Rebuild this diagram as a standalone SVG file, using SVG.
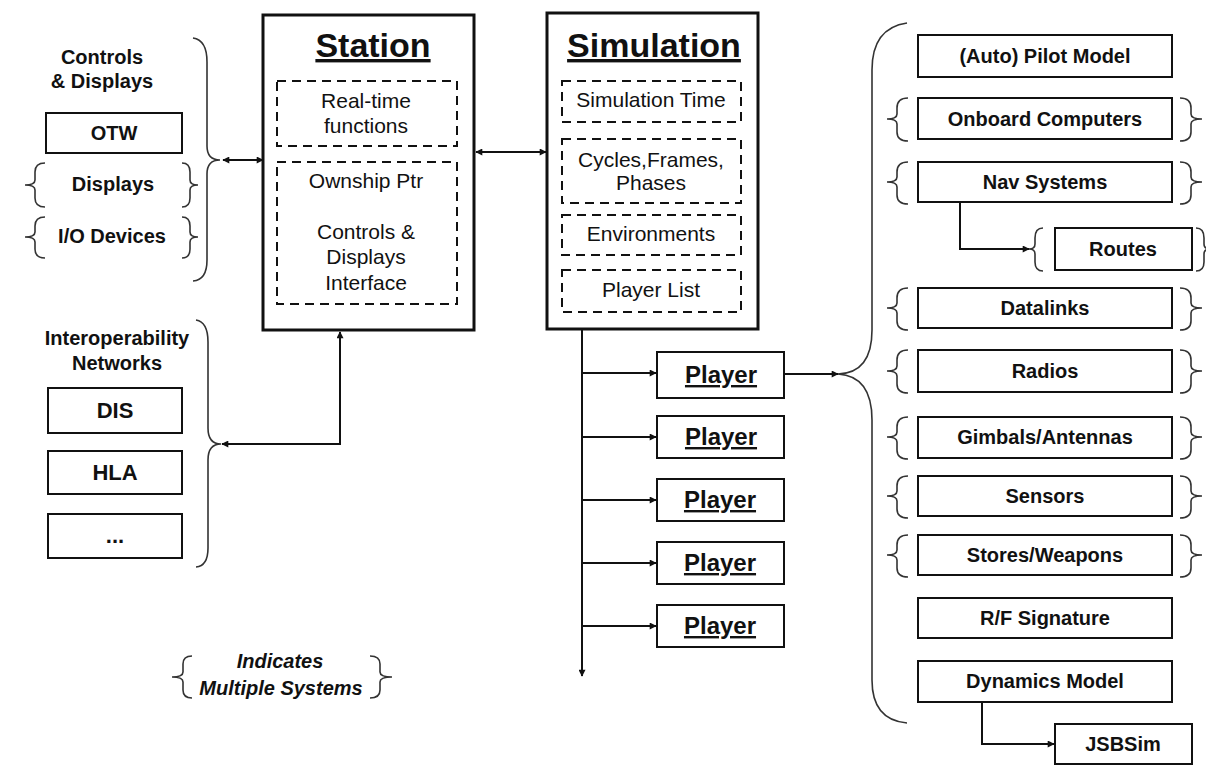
<svg xmlns="http://www.w3.org/2000/svg" width="1206" height="781" viewBox="0 0 1206 781">
<defs>
<marker id="ah" viewBox="0 0 10 10" refX="9" refY="5" markerWidth="9" markerHeight="7" markerUnits="userSpaceOnUse" orient="auto-start-reverse"><path d="M0,0 L10,5 L0,10 z" fill="#111"/></marker>
<style>
.big{fill:#fff;stroke:#111;stroke-width:3}
.box{fill:#fff;stroke:#111;stroke-width:2}
.dash{fill:none;stroke:#111;stroke-width:2;stroke-dasharray:9,6}
.br{fill:none;stroke:#333;stroke-width:1.6}
.con{fill:none;stroke:#111;stroke-width:2}
text{font-family:"Liberation Sans",Arial,sans-serif;fill:#111;text-anchor:middle}
.t{font-size:34px;font-weight:bold;text-decoration:underline}
.r{font-size:21px}
.b{font-size:20px;font-weight:bold}
.b22{font-size:22px;font-weight:bold}
.p{font-size:24px;font-weight:bold;text-decoration:underline}
.i{font-size:20px;font-weight:bold;font-style:italic}
</style>
</defs>
<rect width="1206" height="781" fill="#fff"/>

<g id="controls-displays">
<text class="b" x="102" y="64">Controls</text>
<text class="b" x="102" y="88">&amp; Displays</text>
<path class="br" d="M193,38 Q207,40 207,62 L207,146 Q207,160 220,160 Q207,160 207,174 L207,260 Q207,280 193,281"/>
</g>
<g id="otw"><rect class="box" x="46" y="113" width="136" height="40"/><text class="b" x="114" y="140">OTW</text></g>
<g id="displays">
<path class="br" d="M45,163 Q35,163 35,172 L35,180 Q35,185 25,185 Q35,185 35,190 L35,198 Q35,207 45,207"/>
<path class="br" d="M182,163 Q190,163 190,172 L190,180 Q190,185 198,185 Q190,185 190,190 L190,198 Q190,207 182,207"/>
<text class="b" x="113" y="191">Displays</text>
</g>
<g id="io-devices">
<path class="br" d="M45,217 Q35,217 35,226 L35,232 Q35,237 25,237 Q35,237 35,242 L35,249 Q35,258 45,258"/>
<path class="br" d="M182,217 Q190,217 190,226 L190,232 Q190,237 198,237 Q190,237 190,242 L190,249 Q190,258 182,258"/>
<text class="b" x="112" y="243">I/O Devices</text>
</g>

<g id="interop">
<text class="b" x="117" y="345">Interoperability</text>
<text class="b" x="117" y="370">Networks</text>
<path class="br" d="M196,320 Q208,322 208,342 L208,428 Q208,444 221,444 Q208,444 208,460 L208,548 Q208,566 196,567"/>
</g>
<g id="dis"><rect class="box" x="48" y="388" width="134" height="45"/><text class="b22" x="115" y="418">DIS</text></g>
<g id="hla"><rect class="box" x="48" y="451" width="134" height="43"/><text class="b22" x="115" y="480">HLA</text></g>
<g id="etc"><rect class="box" x="48" y="514" width="134" height="44"/><text class="b22" x="115" y="543">...</text></g>

<g id="station">
<rect class="big" x="263" y="15" width="211" height="315"/>
<text class="t" x="373" y="57">Station</text>
<rect class="dash" x="277" y="81" width="180" height="65"/>
<text class="r" x="366" y="108">Real-time</text>
<text class="r" x="366" y="133">functions</text>
<rect class="dash" x="277" y="162" width="180" height="142"/>
<text class="r" x="366" y="188">Ownship Ptr</text>
<text class="r" x="366" y="239">Controls &amp;</text>
<text class="r" x="366" y="264">Displays</text>
<text class="r" x="366" y="290">Interface</text>
</g>

<g id="simulation">
<rect class="big" x="547" y="13" width="211" height="316"/>
<text class="t" x="654" y="57">Simulation</text>
<rect class="dash" x="562" y="81" width="179" height="41"/>
<text class="r" x="651" y="107">Simulation Time</text>
<rect class="dash" x="562" y="139" width="179" height="64"/>
<text class="r" x="651" y="167">Cycles,Frames,</text>
<text class="r" x="651" y="190">Phases</text>
<rect class="dash" x="562" y="215" width="179" height="40"/>
<text class="r" x="651" y="241">Environments</text>
<rect class="dash" x="562" y="270" width="179" height="42"/>
<text class="r" x="651" y="297">Player List</text>
</g>

<g id="player1"><rect class="box" x="657" y="352" width="127" height="46"/><text class="p" x="721" y="383">Player</text></g>
<g id="player2"><rect class="box" x="657" y="416" width="127" height="42"/><text class="p" x="721" y="445">Player</text></g>
<g id="player3"><rect class="box" x="657" y="479" width="127" height="42"/><text class="p" x="720" y="508">Player</text></g>
<g id="player4"><rect class="box" x="657" y="542" width="127" height="42"/><text class="p" x="720" y="571">Player</text></g>
<g id="player5"><rect class="box" x="657" y="605" width="127" height="42"/><text class="p" x="720" y="634">Player</text></g>

<g id="player-components">
<path class="br" d="M907,23 Q872,28 872,70 L872,330 Q872,373 838,374 Q872,376 872,420 L872,680 Q872,720 907,723"/>
</g>

<g id="autopilot"><rect class="box" x="918" y="35" width="254" height="42"/><text class="b" x="1045" y="63">(Auto) Pilot Model</text></g>
<g id="onboard">
<path class="br" d="M908,98 Q897,98 897,108 L897,114 Q897,119 887,119 Q897,119 897,124 L897,132 Q897,141 908,141"/>
<path class="br" d="M1180,98 Q1191,98 1191,108 L1191,114 Q1191,119 1202,119 Q1191,119 1191,124 L1191,132 Q1191,141 1180,141"/>
<rect class="box" x="918" y="98" width="254" height="41"/><text class="b" x="1045" y="126">Onboard Computers</text></g>
<g id="nav">
<path class="br" d="M908,162 Q897,162 897,172 L897,177 Q897,182 887,182 Q897,182 897,187 L897,195 Q897,204 908,204"/>
<path class="br" d="M1180,162 Q1191,162 1191,172 L1191,177 Q1191,182 1202,182 Q1191,182 1191,187 L1191,195 Q1191,204 1180,204"/>
<rect class="box" x="918" y="162" width="254" height="40"/><text class="b" x="1045" y="189">Nav Systems</text></g>
<g id="routes">
<path class="br" d="M1043,228 Q1035,228 1035,238 L1035,244 Q1035,249 1029,249 Q1035,249 1035,254 L1035,262 Q1035,271 1043,271"/>
<path class="br" d="M1196,228 Q1204,228 1204,238 L1204,244 Q1204,249 1210,249 Q1204,249 1204,254 L1204,262 Q1204,271 1196,271"/>
<rect class="box" x="1055" y="228" width="137" height="42"/><text class="b" x="1123" y="256">Routes</text></g>
<g id="datalinks">
<path class="br" d="M908,288 Q897,288 897,298 L897,303 Q897,308 887,308 Q897,308 897,313 L897,321 Q897,330 908,330"/>
<path class="br" d="M1180,288 Q1191,288 1191,298 L1191,303 Q1191,308 1202,308 Q1191,308 1191,313 L1191,321 Q1191,330 1180,330"/>
<rect class="box" x="918" y="288" width="254" height="40"/><text class="b" x="1045" y="315">Datalinks</text></g>
<g id="radios">
<path class="br" d="M908,350 Q897,350 897,360 L897,366 Q897,371 887,371 Q897,371 897,376 L897,384 Q897,393 908,393"/>
<path class="br" d="M1180,350 Q1191,350 1191,360 L1191,366 Q1191,371 1202,371 Q1191,371 1191,376 L1191,384 Q1191,393 1180,393"/>
<rect class="box" x="918" y="350" width="254" height="42"/><text class="b" x="1045" y="378">Radios</text></g>
<g id="gimbals">
<path class="br" d="M908,417 Q897,417 897,427 L897,432 Q897,437 887,437 Q897,437 897,442 L897,450 Q897,459 908,459"/>
<path class="br" d="M1180,417 Q1191,417 1191,427 L1191,432 Q1191,437 1202,437 Q1191,437 1191,442 L1191,450 Q1191,459 1180,459"/>
<rect class="box" x="918" y="417" width="254" height="41"/><text class="b" x="1045" y="444">Gimbals/Antennas</text></g>
<g id="sensors">
<path class="br" d="M908,476 Q897,476 897,486 L897,491 Q897,496 887,496 Q897,496 897,501 L897,509 Q897,518 908,518"/>
<path class="br" d="M1180,476 Q1191,476 1191,486 L1191,491 Q1191,496 1202,496 Q1191,496 1191,501 L1191,509 Q1191,518 1180,518"/>
<rect class="box" x="918" y="476" width="254" height="40"/><text class="b" x="1045" y="503">Sensors</text></g>
<g id="stores">
<path class="br" d="M908,535 Q897,535 897,545 L897,550 Q897,555 887,555 Q897,555 897,560 L897,568 Q897,577 908,577"/>
<path class="br" d="M1180,535 Q1191,535 1191,545 L1191,550 Q1191,555 1202,555 Q1191,555 1191,560 L1191,568 Q1191,577 1180,577"/>
<rect class="box" x="918" y="535" width="254" height="40"/><text class="b" x="1045" y="562">Stores/Weapons</text></g>
<g id="rf"><rect class="box" x="918" y="598" width="254" height="40"/><text class="b" x="1045" y="625">R/F Signature</text></g>
<g id="dynamics"><rect class="box" x="918" y="661" width="254" height="41"/><text class="b" x="1045" y="688">Dynamics Model</text></g>
<g id="jsbsim"><rect class="box" x="1055" y="724" width="137" height="40"/><text class="b" x="1123" y="751">JSBSim</text></g>

<g id="legend">
<path class="br" d="M192,656 Q183,656 183,664 L183,672 Q183,677 172,677 Q183,677 183,682 L183,690 Q183,698 192,698"/>
<path class="br" d="M370,656 Q380,656 380,664 L380,672 Q380,677 392,677 Q380,677 380,682 L380,690 Q380,698 370,698"/>
<text class="i" x="280" y="668">Indicates</text>
<text class="i" x="281" y="695">Multiple Systems</text>
</g>

<g id="connectors">
<path class="con" d="M223,160 L263,160" marker-start="url(#ah)" marker-end="url(#ah)"/>
<path class="con" d="M476,152 L546,152" marker-start="url(#ah)" marker-end="url(#ah)"/>
<path class="con" d="M340,332 L340,444 L222,444" marker-start="url(#ah)" marker-end="url(#ah)"/>
<path class="con" d="M582,330 L582,676" marker-end="url(#ah)"/>
<path class="con" d="M582,373 L656,373" marker-end="url(#ah)"/>
<path class="con" d="M582,437 L656,437" marker-end="url(#ah)"/>
<path class="con" d="M582,500 L656,500" marker-end="url(#ah)"/>
<path class="con" d="M582,563 L656,563" marker-end="url(#ah)"/>
<path class="con" d="M582,626 L656,626" marker-end="url(#ah)"/>
<path class="con" d="M784,374 L838,374" marker-end="url(#ah)"/>
<path class="con" d="M960,202 L960,249 L1029,249" marker-end="url(#ah)"/>
<path class="con" d="M982,702 L982,744 L1054,744" marker-end="url(#ah)"/>
</g>
</svg>
